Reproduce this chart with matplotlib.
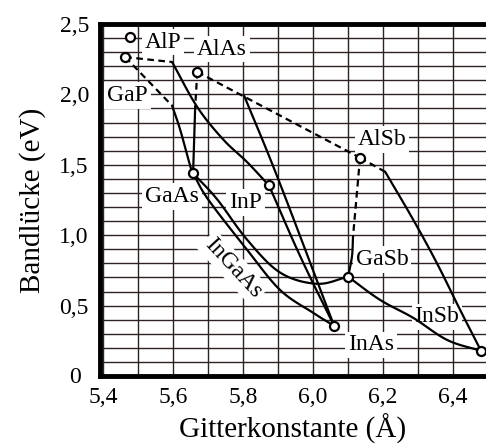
import numpy as np
import matplotlib
matplotlib.use("Agg")
import matplotlib.pyplot as plt

plt.rcParams['font.family'] = ['Liberation Serif', 'DejaVu Serif']

# ---------------- data ----------------
compounds = ["AlP", "GaP", "AlAs", "GaAs", "InP", "AlSb", "GaSb", "InAs", "InSb"]
lattice = [5.477, 5.463, 5.669, 5.657, 5.874, 6.134, 6.100, 6.060, 6.480]
bandgap = [2.41, 2.265, 2.16, 1.44, 1.353, 1.55, 0.705, 0.356, 0.178]

# ternary curves
gap_inp_ind_x = [5.463, 5.597]
gap_inp_ind_y = [2.265, 2.23]
gap_inp_dir_x = [5.597, 5.669, 5.743, 5.811, 5.874]
gap_inp_dir_y = [2.23, 1.91, 1.68, 1.52, 1.353]

gap_gaas_ind_x = [5.463, 5.597]
gap_gaas_ind_y = [2.265, 1.92]
gap_gaas_dir_x = [5.597, 5.620, 5.649, 5.657]
gap_gaas_dir_y = [1.92, 1.75, 1.49, 1.44]

alas_gaas_ind_x = [5.669, 5.663]
alas_gaas_ind_y = [2.16, 1.91]
alas_gaas_dir_x = [5.663, 5.657]
alas_gaas_dir_y = [1.91, 1.44]

alas_alsb_x = [5.669, 6.134]
alas_alsb_y = [2.16, 1.55]

alinas_x = [5.803, 5.90, 6.060]
alinas_y = [1.99, 1.40, 0.356]

inp_inas_x = [5.874, 5.965, 6.060]
inp_inas_y = [1.353, 0.84, 0.356]

ingaas_x = [5.657, 5.700, 5.811, 5.906, 6.000, 6.060]
ingaas_y = [1.44, 1.254, 0.897, 0.61, 0.449, 0.356]

gaassb_x = [5.657, 5.726, 5.811, 5.906, 6.011, 6.100]
gaassb_y = [1.44, 1.254, 0.969, 0.734, 0.655, 0.705]

alsb_gasb_ind_x = [6.134, 6.114]
alsb_gasb_ind_y = [1.55, 0.99]
alsb_gasb_dir_x = [6.114, 6.111, 6.100]
alsb_gasb_dir_y = [0.99, 0.85, 0.705]

alsb_insb_ind_x = [6.134, 6.206]
alsb_insb_ind_y = [1.55, 1.45]
alsb_insb_dir_x = [6.206, 6.286, 6.354, 6.420, 6.480]
alsb_insb_dir_y = [1.45, 1.11, 0.80, 0.47, 0.178]

gasb_insb_x = [6.100, 6.191, 6.286, 6.383, 6.480]
gasb_insb_y = [0.705, 0.541, 0.413, 0.256, 0.178]

x_ticks = [5.4, 5.6, 5.8, 6.0, 6.2, 6.4]
x_ticklabels = ["5,4", "5,6", "5,8", "6,0", "6,2", "6,4"]
y_ticks = [0.5, 1.0, 1.5, 2.0, 2.5]
y_ticklabels = ["0,5", "1,0", "1,5", "2,0", "2,5"]

label_text = ["AlP", "AlAs", "GaP", "GaAs", "InP", "AlSb", "GaSb", "InSb", "InAs", "InGaAs"]
label_x = [5.571, 5.74, 5.469, 5.597, 5.806, 6.197, 6.197, 6.354, 6.166, 5.771]
label_y = [2.372, 2.322, 1.994, 1.275, 1.232, 1.681, 0.826, 0.42, 0.221, 0.769]
label_rot = [0, 0, 0, 0, 0, 0, 0, 0, 0, -47]


def smooth(xs, ys, n=20):
    xs = np.asarray(xs, float)
    ys = np.asarray(ys, float)
    if len(xs) < 3:
        return xs, ys
    P = np.column_stack([xs, ys])
    P = np.vstack([2 * P[0] - P[1], P, 2 * P[-1] - P[-2]])
    out = []
    for i in range(1, len(P) - 2):
        p0, p1, p2, p3 = P[i - 1], P[i], P[i + 1], P[i + 2]
        t = np.linspace(0, 1, n, endpoint=False)[:, None]
        seg = 0.5 * ((2 * p1) + (-p0 + p2) * t + (2 * p0 - 5 * p1 + 4 * p2 - p3) * t ** 2
                     + (-p0 + 3 * p1 - 3 * p2 + p3) * t ** 3)
        out.append(seg)
    out.append(P[-2][None, :])
    out = np.vstack(out)
    return out[:, 0], out[:, 1]


fig = plt.figure(figsize=(4.86, 4.48), dpi=100)
ax = fig.add_axes([100 / 486, 72 / 448, 386 / 486, 352 / 448])
ax.set_xlim(5.391, 6.494)
ax.set_ylim(0, 2.5)

gridc = '#2e2222'
ax.set_xticks(x_ticks)
ax.set_xticklabels(x_ticklabels, fontsize=17)
ax.set_xticks(np.round(np.arange(5.5, 6.45, 0.1), 2), minor=True)
ax.set_yticks(y_ticks)
ax.set_yticklabels(y_ticklabels, fontsize=17)
ax.set_yticks(np.round(np.arange(0.1, 2.45, 0.1), 2), minor=True)
ax.tick_params(which='both', length=0)
ax.tick_params(axis='x', pad=8)
ax.tick_params(axis='y', pad=8)
ax.grid(which='both', color=gridc, linewidth=1.0, zorder=0)
ax.set_axisbelow(True)
for s in ['left', 'bottom', 'top']:
    ax.spines[s].set_linewidth(3.5)
    ax.spines[s].set_color('black')
ax.spines['right'].set_visible(False)

ax.text(-0.065, -0.005, "0", transform=ax.transAxes, fontsize=17,
        ha='center', va='center')

lw = 1.6
solid = [(gap_inp_dir_x, gap_inp_dir_y), (gap_gaas_dir_x, gap_gaas_dir_y),
         (alas_gaas_dir_x, alas_gaas_dir_y), (alinas_x, alinas_y),
         (inp_inas_x, inp_inas_y), (ingaas_x, ingaas_y), (gaassb_x, gaassb_y),
         (alsb_gasb_dir_x, alsb_gasb_dir_y), (alsb_insb_dir_x, alsb_insb_dir_y),
         (gasb_insb_x, gasb_insb_y)]
dashed = [(gap_inp_ind_x, gap_inp_ind_y), (gap_gaas_ind_x, gap_gaas_ind_y),
          (alas_gaas_ind_x, alas_gaas_ind_y), (alas_alsb_x, alas_alsb_y),
          (alsb_gasb_ind_x, alsb_gasb_ind_y), (alsb_insb_ind_x, alsb_insb_ind_y)]
for xs, ys in solid:
    sx, sy = smooth(xs, ys)
    ax.plot(sx, sy, color='black', lw=lw, zorder=4, solid_capstyle='round')
for xs, ys in dashed:
    ax.plot(xs, ys, color='black', lw=lw, ls=(0, (3, 2)), zorder=4)

ax.plot(lattice, bandgap, ls='none', marker='o', ms=6.5, mfc='white',
        mec='black', mew=1.6, zorder=6, clip_on=False)

for t, x, y, r in zip(label_text, label_x, label_y, label_rot):
    ax.text(x, y, t, fontsize=17, ha='center', va='center', rotation=r,
            rotation_mode='anchor', zorder=3,
            bbox=dict(boxstyle='square,pad=0.12', fc='white', ec='none'))

ax.set_xlabel("Gitterkonstante (Å)", fontsize=21, labelpad=4)
ax.set_ylabel("Bandlücke (eV)", fontsize=21, labelpad=10)

fig.savefig("out.png", dpi=100)
